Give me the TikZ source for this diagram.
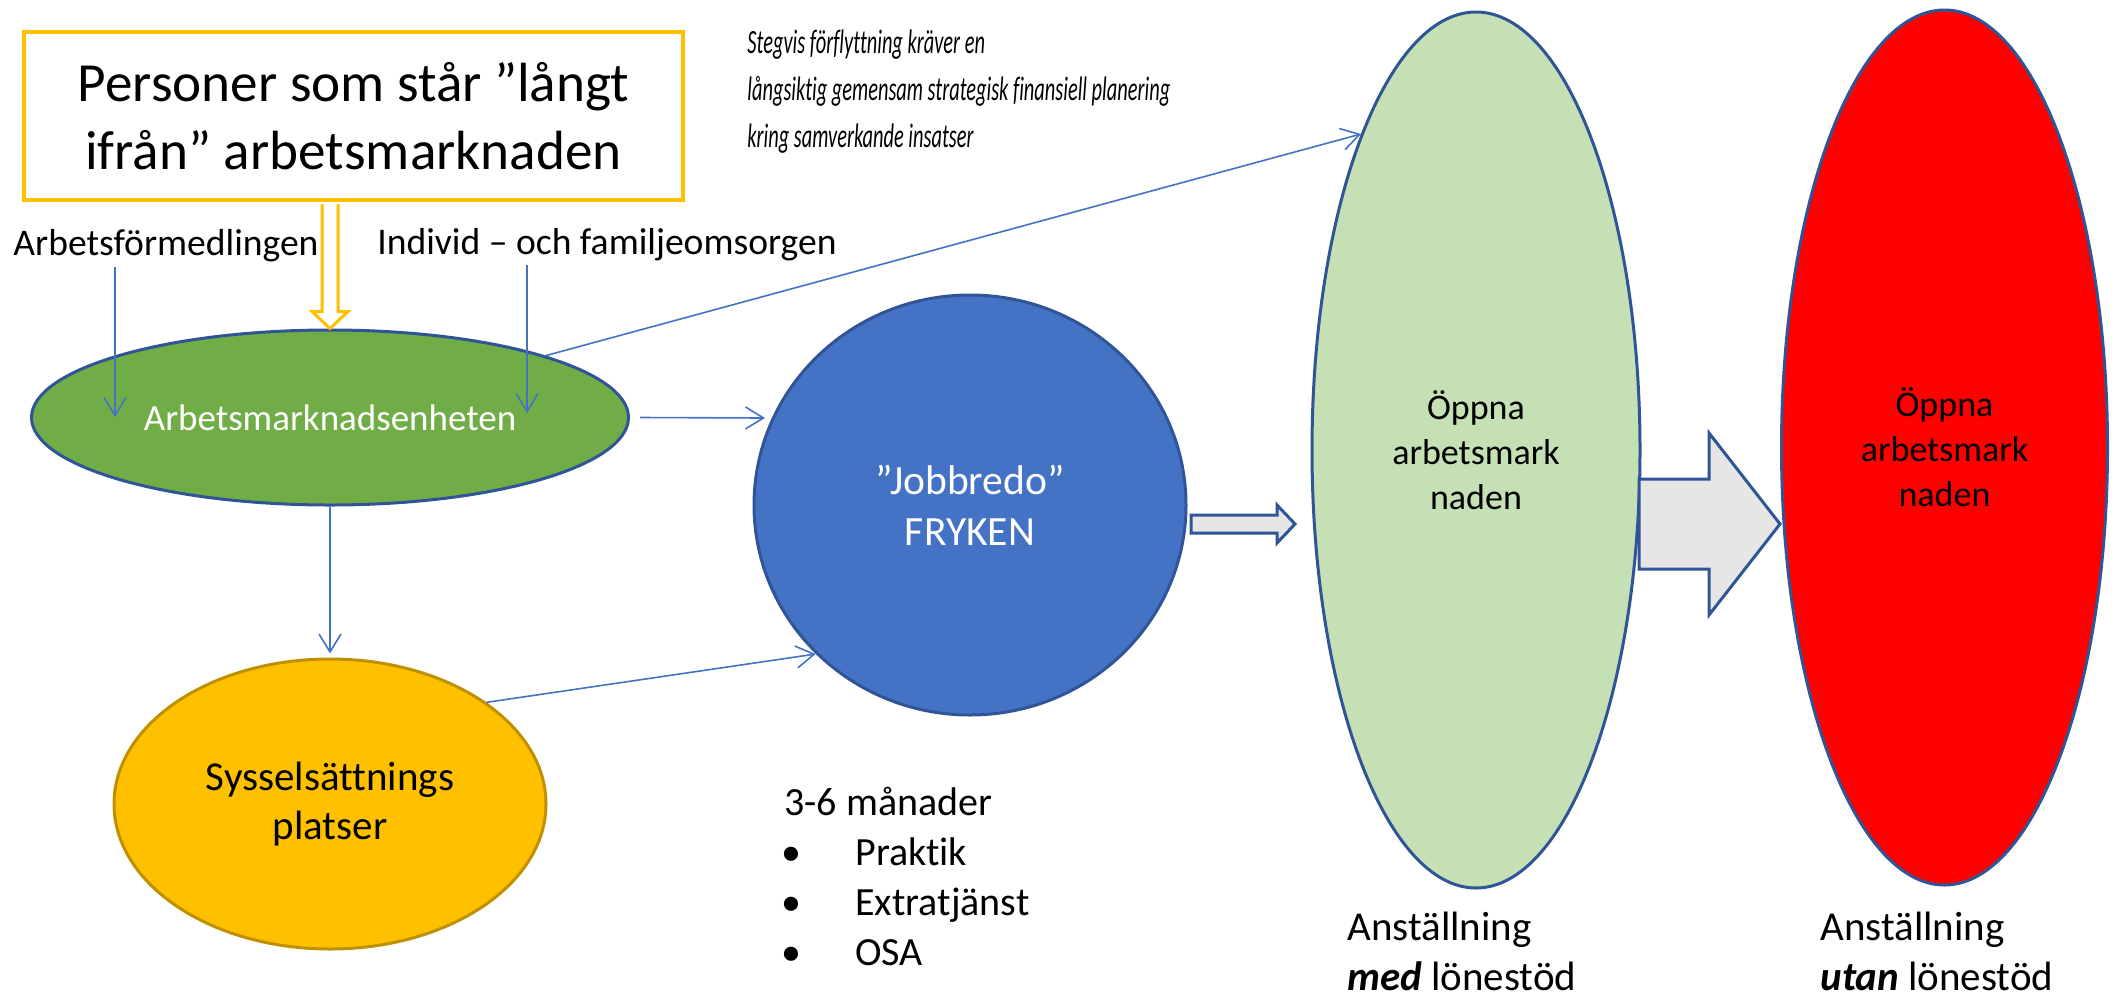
\documentclass[tikz,border=0pt]{standalone}
\usepackage{fontspec}
\usepackage{graphicx}
\setmainfont{Carlito}[Ligatures=NoCommon]
\usetikzlibrary{shapes.geometric,arrows.meta,calc}
\definecolor{cOrange}{HTML}{FFC000}
\definecolor{cGreen}{HTML}{70AD47}
\definecolor{cBlue}{HTML}{4472C4}
\definecolor{cDark}{HTML}{2F5597}
\definecolor{cYelB}{HTML}{BF9000}
\definecolor{cLight}{HTML}{C5E0B4}
\definecolor{cRed}{HTML}{FF0000}
\definecolor{cGrey}{HTML}{E7E6E6}
\newcommand\mycond[1]{\scalebox{0.6}[1]{\itshape #1}}
\begin{document}
\begin{tikzpicture}[x=0.5pt,y=-0.5pt,
  blob/.style={ellipse, draw=cDark, line width=1.5pt, inner sep=0pt, align=center},
  conn/.style={draw=cBlue, line width=0.8pt, -{Straight Barb[length=9pt,width=11pt]}},
  lbl/.style={inner sep=0pt, anchor=base west},
  blockarrow/.style={draw=cDark, fill=cGrey, line width=1.5pt, line join=miter},
]
\useasboundingbox (0,0) rectangle (2118,997);

% shapes
\node[draw=cOrange, line width=2pt, minimum width=329.5pt, minimum height=84pt,
      inner sep=0pt, align=center, font=\fontsize{27.6}{34}\selectfont]
      (box) at (353.5,116) {Personer som står ”långt\\ifrån” arbetsmarknaden};

\node[blob, fill=cGreen, minimum width=298.5pt, minimum height=87.5pt, text=white,
      font=\fontsize{18.5}{22}\selectfont] (ame) at (330,417.5) {Arbetsmarknadsenheten};

\node[blob, fill=cBlue, minimum width=216pt, minimum height=210pt, text=white,
      font=\fontsize{20.8}{25.5}\selectfont] (blue) at (970,505) {”Jobbredo”\\FRYKEN};

\node[blob, draw=cYelB, fill=cOrange, minimum width=216pt, minimum height=145pt,
      font=\fontsize{20.5}{24.5}\selectfont] (yel) at (330,804) {Sysselsättnings\\platser};

\node[blob, fill=cLight, minimum width=164pt, minimum height=438pt,
      font=\fontsize{18}{22.5}\selectfont] (ogr) at (1476,450) {Öppna\\arbetsmark\\naden};

\node[blob, fill=cRed, minimum width=163pt, minimum height=437.5pt,
      font=\fontsize{18}{22.5}\selectfont] (ored) at (1944.5,447.5) {Öppna\\arbetsmark\\naden};

% labels
\node[lbl, font=\fontsize{18.8}{22}\selectfont] (lblAF) at (13,255) {Arbetsförmedlingen};
\node[lbl, font=\fontsize{18.8}{22}\selectfont] (lblIFO) at (377,254) {Individ – och familjeomsorgen};

\node[lbl, font=\fontsize{17}{20}\selectfont] (st1) at (747,53) {\mycond{Stegvis förflyttning kräver en}};
\node[lbl, font=\fontsize{17}{20}\selectfont] (st2) at (747,100) {\mycond{långsiktig gemensam strategisk finansiell planering}};
\node[lbl, font=\fontsize{17}{20}\selectfont] (st3) at (747,147) {\mycond{kring samverkande insatser}};

\node[lbl, font=\fontsize{20}{24}\selectfont] (dur) at (784,815) {3-6 månader};
\node[lbl, font=\fontsize{20}{24}\selectfont] (it1) at (781,865) {\makebox[37pt][l]{•}Praktik};
\node[lbl, font=\fontsize{20}{24}\selectfont] (it2) at (781,915) {\makebox[37pt][l]{•}Extratjänst};
\node[lbl, font=\fontsize{20}{24}\selectfont] (it3) at (781,965) {\makebox[37pt][l]{•}OSA};

\node[lbl, font=\fontsize{20.5}{25}\selectfont] (an1) at (1347,940) {Anställning};
\node[lbl, font=\fontsize{20.5}{25}\selectfont] (an2) at (1347,990) {\textbf{\textit{med}} lönestöd};
\node[lbl, font=\fontsize{20.5}{25}\selectfont] (an3) at (1820,940) {Anställning};
\node[lbl, font=\fontsize{20.5}{25}\selectfont] (an4) at (1820,990) {\textbf{\textit{utan}} lönestöd};

% hollow arrow from box to Arbetsmarknadsenheten
\coordinate (hTip) at (ame.north);
\draw[draw=cOrange, fill=white, line width=1.5pt, line join=miter]
  ($(hTip |- box.south)+(-8,2)$) -- ($(hTip)+(-8,-17)$) -- ($(hTip)+(-18,-17)$) -- (hTip)
  -- ($(hTip)+(18,-17)$) -- ($(hTip)+(8,-17)$) -- ($(hTip |- box.south)+(8,2)$);

% block arrows
\coordinate (sa0) at (1191,524);
\coordinate (sa1) at (1295,524);
\draw[blockarrow] ($(sa0)+(0,-9)$) -- ($(sa1)+(-18,-9)$) -- ($(sa1)+(-18,-19)$) -- (sa1)
  -- ($(sa1)+(-18,19)$) -- ($(sa1)+(-18,9)$) -- ($(sa0)+(0,9)$) -- cycle;
\coordinate (ba0) at (1639,524);
\coordinate (ba1) at (1780,524);
\draw[blockarrow] ($(ba0)+(0,-45)$) -- ($(ba1)+(-71,-45)$) -- ($(ba1)+(-71,-91)$) -- (ba1)
  -- ($(ba1)+(-71,91)$) -- ($(ba1)+(-71,45)$) -- ($(ba0)+(0,45)$) -- cycle;

% thin connectors
\coordinate (afTop) at (115,267);
\coordinate (afEnd) at (115,417);
\draw[conn] (afTop) -- (afEnd);
\coordinate (ifTop) at (527,265);
\coordinate (ifEnd) at (527,413);
\draw[conn] (ifTop) -- (ifEnd);
\draw[conn] (ame.16.3) -- (ogr.110.5);
\coordinate (bIn) at (765,418);
\draw[conn] ([xshift=5pt]ame.east) -- (bIn);
\draw[conn] (ame.south) -- ([yshift=2pt]yel.north);
\draw[conn] (yel.33) -- (blue.224.8);
\end{tikzpicture}
\end{document}
